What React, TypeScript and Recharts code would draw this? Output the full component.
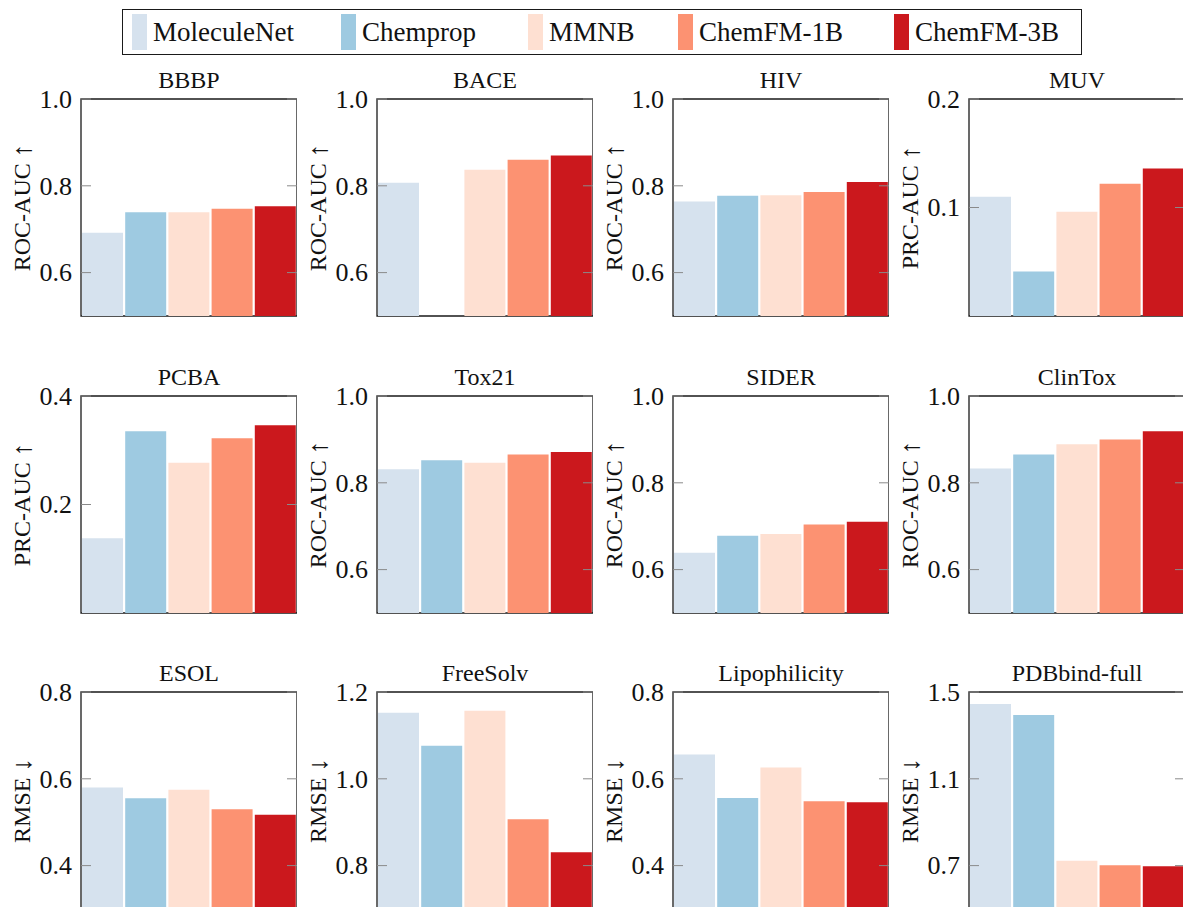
import React from 'react';
import { BarChart, Bar, XAxis, YAxis, Cell, ReferenceArea, Label } from 'recharts';

const MODELS = ['MoleculeNet', 'Chemprop', 'MMNB', 'ChemFM-1B', 'ChemFM-3B'];
const COLORS = ['#d6e2ee', '#9ecae1', '#fee0d2', '#fc9272', '#cb181d'];

const BBBP = [0.692, 0.739, 0.739, 0.747, 0.753];
const BACE = [0.807, null, 0.837, 0.86, 0.87];
const HIV = [0.764, 0.777, 0.778, 0.786, 0.809];
const MUV = [0.11, 0.041, 0.096, 0.122, 0.136];
const PCBA = [0.138, 0.335, 0.277, 0.322, 0.346];
const TOX21 = [0.831, 0.852, 0.846, 0.865, 0.871];
const SIDER = [0.639, 0.678, 0.682, 0.704, 0.71];
const CLINTOX = [0.833, 0.865, 0.889, 0.9, 0.919];
const ESOL = [0.58, 0.555, 0.575, 0.53, 0.517];
const FREESOLV = [1.152, 1.076, 1.157, 0.907, 0.831];
const LIPO = [0.656, 0.556, 0.626, 0.548, 0.546];
const PDBBIND = [1.445, 1.394, 0.722, 0.702, 0.697];

const ROC_TICKS = [0.6, 0.8, 1.0];
const MUV_TICKS = [0.1, 0.2];
const PCBA_TICKS = [0.2, 0.4];
const RMSE_TICKS = [0.4, 0.6, 0.8];
const FREESOLV_TICKS = [0.8, 1.0, 1.2];
const PDBBIND_TICKS = [0.7, 1.1, 1.5];

const ROC = { name: 'ROC-AUC', arrow: '\u2191' };
const PRC = { name: 'PRC-AUC', arrow: '\u2191' };
const RMSE = { name: 'RMSE', arrow: '\u2193' };

const PANELS = [
  { title: 'BBBP', metric: ROC, values: BBBP, domain: [0.5, 1.0], ticks: ROC_TICKS },
  { title: 'BACE', metric: ROC, values: BACE, domain: [0.5, 1.0], ticks: ROC_TICKS },
  { title: 'HIV', metric: ROC, values: HIV, domain: [0.5, 1.0], ticks: ROC_TICKS },
  { title: 'MUV', metric: PRC, values: MUV, domain: [0, 0.2], ticks: MUV_TICKS },
  { title: 'PCBA', metric: PRC, values: PCBA, domain: [0, 0.4], ticks: PCBA_TICKS },
  { title: 'Tox21', metric: ROC, values: TOX21, domain: [0.5, 1.0], ticks: ROC_TICKS },
  { title: 'SIDER', metric: ROC, values: SIDER, domain: [0.5, 1.0], ticks: ROC_TICKS },
  { title: 'ClinTox', metric: ROC, values: CLINTOX, domain: [0.5, 1.0], ticks: ROC_TICKS },
  { title: 'ESOL', metric: RMSE, values: ESOL, domain: [0.3, 0.8], ticks: RMSE_TICKS },
  { title: 'FreeSolv', metric: RMSE, values: FREESOLV, domain: [0.7, 1.2], ticks: FREESOLV_TICKS },
  { title: 'Lipophilicity', metric: RMSE, values: LIPO, domain: [0.3, 0.8], ticks: RMSE_TICKS },
  { title: 'PDBbind-full', metric: RMSE, values: PDBBIND, domain: [0.5, 1.5], ticks: PDBBIND_TICKS },
];

const FONT = '"Liberation Serif", "Times New Roman", serif';
const TEXT = '#111';
const CHART_W = 296;
const CHART_H = 296;
const AXIS_W = 80;
const PLOT_W = 216;
const PLOT_H = 217;
const MARGIN_TOP = 59;
const TICK_MARGIN = 9;
const COL_STEP = 296;
const ROW_TOPS = [99, 395.5, 692];
const LEGEND_ITEM_W = [209, 187, 150, 216, 175];

const makeTick = (plotW: number) => (props: any) => {
  const { x, y, payload } = props;
  const left = x + TICK_MARGIN;
  return (
    <g>
      <line x1={left} x2={left + 10} y1={y} y2={y} stroke="#8a8a8a" strokeWidth={1} />
      <line x1={left + plotW - 10} x2={left + plotW} y1={y} y2={y} stroke="#8a8a8a" strokeWidth={1} />
      <text x={x} y={y} dy="0.34em" textAnchor="end" style={{ fontSize: 26, fontFamily: FONT }} fill={TEXT}>
        {Number(payload.value).toFixed(1)}
      </text>
    </g>
  );
};

const YLabel = (metric: { name: string; arrow: string }) => (props: any) => {
  const vb = props.viewBox || { x: 0, y: MARGIN_TOP, width: AXIS_W, height: PLOT_H };
  const cx = vb.x + 21;
  const cy = vb.y + vb.height / 2;
  return (
    <text
      x={cx}
      y={cy}
      transform={`rotate(-90, ${cx}, ${cy})`}
      textAnchor="middle"
      dominantBaseline="central"
      style={{ fontSize: 24, fontFamily: FONT }}
      fill={TEXT}
    >
      {metric.name}
      <tspan dx={6} style={{ fontSize: 27 }}>{metric.arrow}</tspan>
    </text>
  );
};

function Panel({ panel, index }: { panel: any; index: number }) {
  const col = index % 4;
  const row = Math.floor(index / 4);
  const data = MODELS.map((m, i) => ({ model: m, v: panel.values[i] }));
  const left = 81 + col * COL_STEP - AXIS_W;
  const top = ROW_TOPS[row] - MARGIN_TOP;
  return (
    <div style={{ position: 'absolute', left, top, width: CHART_W, height: CHART_H }}>
      <BarChart
        width={CHART_W}
        height={CHART_H}
        data={data}
        margin={{ top: MARGIN_TOP, right: CHART_W - AXIS_W - PLOT_W, bottom: CHART_H - MARGIN_TOP - PLOT_H, left: 0 }}
        barCategoryGap={1}
      >
        <XAxis dataKey="model" hide />
        <Bar dataKey="v" isAnimationActive={false}>
          {data.map((d, i) => (
            <Cell key={d.model} fill={COLORS[i]} />
          ))}
        </Bar>
        <YAxis
          type="number"
          domain={panel.domain}
          ticks={panel.ticks}
          allowDataOverflow
          width={AXIS_W}
          axisLine={false}
          tickLine={false}
          tickSize={0}
          tickMargin={TICK_MARGIN}
          interval={0}
          tick={makeTick(PLOT_W)}
        >
          <Label content={YLabel(panel.metric)} />
        </YAxis>
        <ReferenceArea
          y1={panel.domain[0]}
          y2={panel.domain[1]}
          ifOverflow="visible"
          fill="none"
          fillOpacity={0}
          stroke="#1a1a1a"
          strokeWidth={1.3}
          label={{ value: panel.title, position: 'top', offset: 11, fontSize: 24, fontFamily: FONT, fill: TEXT }}
        />
      </BarChart>
    </div>
  );
}

function LegendBox() {
  return (
    <div
      style={{
        position: 'absolute',
        left: 122,
        top: 9,
        height: 46,
        boxSizing: 'border-box',
        border: '1.3px solid #1a1a1a',
        display: 'flex',
        alignItems: 'center',
        padding: '0 12px 0 9px',
        fontFamily: FONT,
        fontSize: 27,
        color: TEXT,
        background: '#fff',
        whiteSpace: 'nowrap',
      }}
    >
      {MODELS.map((m, i) => (
        <div key={m} style={{ display: 'flex', alignItems: 'center', width: LEGEND_ITEM_W[i] }}>
          <div style={{ width: 15, height: 36, background: COLORS[i], marginRight: 6 }} />
          <span>{m}</span>
        </div>
      ))}
    </div>
  );
}

export default function App() {
  return (
    <div
      style={{
        position: 'absolute',
        left: 0,
        top: 0,
        width: 1183,
        height: 907,
        overflow: 'hidden',
        background: '#fff',
      }}
    >
      {PANELS.map((p, i) => (
        <Panel key={p.title} panel={p} index={i} />
      ))}
      <LegendBox />
    </div>
  );
}
